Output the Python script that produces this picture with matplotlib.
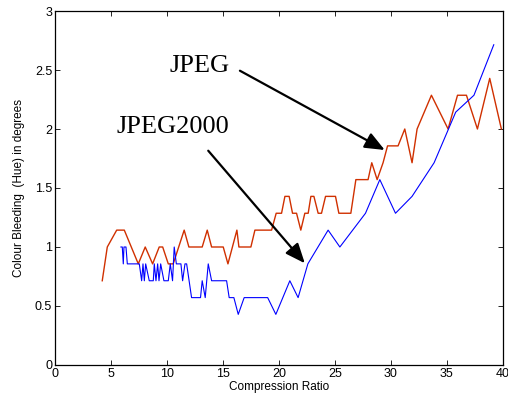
import matplotlib.pyplot as plt

# JPEG colour bleeding (hue error, degrees) vs compression ratio
jpeg_ratio = [4.22, 4.67, 5.51, 6.19, 7.44, 8.06, 8.72, 9.31, 9.62, 10.12, 10.56,
              11.54, 11.96, 13.15, 13.6, 13.99, 15.03, 15.45, 16.25, 16.43, 17.5,
              17.86, 19.35, 19.76, 20.24, 20.54, 20.92, 21.22, 21.58, 21.96, 22.32,
              22.62, 22.86, 23.13, 23.51, 23.81, 24.17, 25.06, 25.36, 26.43, 26.88,
              27.97, 28.3, 28.78, 29.31, 29.71, 30.65, 31.25, 31.9, 32.35, 33.63,
              35.12, 35.96, 36.76, 37.74, 38.84, 39.88]
jpeg_hue = [0.714, 1.0, 1.143, 1.143, 0.857, 1.0, 0.857, 1.0, 1.0, 0.857, 0.857,
            1.143, 1.0, 1.0, 1.143, 1.0, 1.0, 0.857, 1.143, 1.0, 1.0,
            1.143, 1.143, 1.286, 1.286, 1.429, 1.429, 1.286, 1.286, 1.143, 1.286,
            1.286, 1.429, 1.429, 1.286, 1.286, 1.429, 1.429, 1.286, 1.286, 1.571,
            1.571, 1.714, 1.571, 1.714, 1.857, 1.857, 2.0, 1.714, 2.0, 2.286,
            2.0, 2.286, 2.286, 2.0, 2.429, 2.0]

# JPEG2000
j2k_ratio = [5.89, 6.01, 6.1, 6.16, 6.34, 6.46, 7.53, 7.74, 7.86, 7.98, 8.1,
             8.42, 8.78, 8.87, 9.02, 9.17, 9.29, 9.44, 9.73, 10.12, 10.3, 10.5,
             10.65, 10.84, 11.25, 11.4, 11.61, 11.76, 12.2, 13.0, 13.15, 13.42,
             13.69, 13.99, 15.33, 15.56, 15.98, 16.37, 16.9, 19.0, 19.73, 20.98,
             21.72, 22.59, 24.4, 25.45, 27.74, 29.02, 30.42, 31.9, 33.87, 35.8,
             37.43, 39.2]
j2k_hue = [1.0, 1.0, 0.857, 1.0, 1.0, 0.857, 0.857, 0.714, 0.857, 0.714, 0.857,
           0.714, 0.714, 0.857, 0.714, 0.857, 0.714, 0.857, 0.714, 0.714, 0.857, 0.714,
           1.0, 0.857, 0.857, 0.714, 0.857, 0.857, 0.571, 0.571, 0.714, 0.571,
           0.857, 0.714, 0.714, 0.571, 0.571, 0.429, 0.571, 0.571, 0.429, 0.714,
           0.571, 0.857, 1.143, 1.0, 1.286, 1.571, 1.286, 1.429, 1.714, 2.143,
           2.286, 2.714]

xticks = [0, 5, 10, 15, 20, 25, 30, 35, 40]
yticks = [0, 0.5, 1, 1.5, 2, 2.5, 3]
ytick_labels = ["0", "0.5", "1", "1.5", "2", "2.5", "3"]

plt.rcParams['font.family'] = ['Liberation Sans', 'DejaVu Sans']

fig = plt.figure(figsize=(5.08, 4.03), dpi=100)
ax = fig.add_axes([0.1083, 0.0943, 0.8813, 0.8784])

ax.plot(jpeg_ratio, jpeg_hue, color='#d03000', linewidth=1.0)
ax.plot(j2k_ratio, j2k_hue, color='#0000ff', linewidth=0.8)

ax.set_xlim(0, 40)
ax.set_ylim(0, 3)
ax.set_xticks(xticks)
ax.set_xticklabels([str(t) for t in xticks])
ax.set_yticks(yticks)
ax.set_yticklabels(ytick_labels)
ax.tick_params(direction='in', length=3.5, width=0.6, labelsize=9,
               top=True, right=True, pad=2)
for s in ax.spines.values():
    s.set_linewidth(0.9)

ax.set_xlabel("Compression Ratio", fontsize=8.5, labelpad=1)
ax.set_ylabel("Colour Bleeding  (Hue) in degrees", fontsize=8.5, labelpad=7)

arrow = dict(arrowstyle='-|>,head_length=1.2,head_width=0.5', color='black',
             linewidth=1.6, shrinkA=0, shrinkB=0)
ax.annotate("", xy=(29.46, 1.822), xytext=(16.52, 2.494), arrowprops=arrow)
ax.annotate("", xy=(22.32, 0.862), xytext=(13.69, 1.816), arrowprops=arrow)
ax.text(12.95, 2.534, "JPEG", fontsize=19, family=['Liberation Serif'],
        ha='center', va='center')
ax.text(10.54, 2.017, "JPEG2000", fontsize=19, family=['Liberation Serif'],
        ha='center', va='center')

fig.savefig("out.png", dpi=100)
